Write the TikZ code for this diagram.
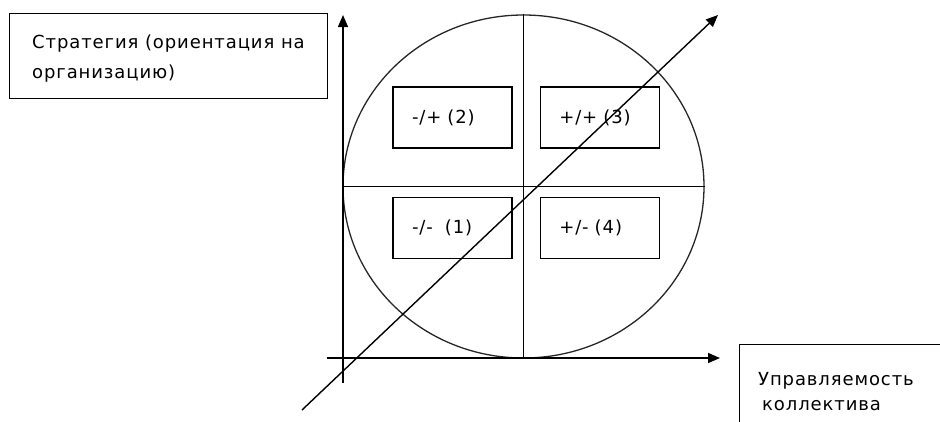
\documentclass[tikz,border=0pt]{standalone}
\usepackage{fontspec}
\setmainfont{DejaVu Sans}[LetterSpace=5]
\usetikzlibrary{arrows.meta, positioning, shapes.geometric}
\tikzstyle{labelbox} = [rectangle, draw, line width=1.3pt, anchor=north west, inner sep=0pt]
\tikzstyle{quad} = [
  rectangle, draw, line width=1.3pt, minimum width=119pt, minimum height=61pt,
  text width=81pt, inner xsep=19pt, align=left, font=\fontsize{18}{20}\selectfont
]
\tikzstyle{txt} = [anchor=base west, inner sep=0pt, font=\fontsize{18}{20}\selectfont]
\tikzstyle{axis} = [-{Triangle[length=12pt, width=10pt]}, line width=1.4pt]

\begin{document}
\begin{tikzpicture}[x=1pt, y=-1pt]
  \useasboundingbox (0,0) rectangle (940,421);
  \clip (0,0) rectangle (940,421);

  % Labels
  \node[labelbox, minimum width=318pt, minimum height=85pt] (strat) at (9,13) {};
  \node[txt] (strat1) at (32,48) {Стратегия (ориентация на};
  \node[txt] (strat2) at (32,78) {организацию)};
  \node[labelbox, minimum width=230pt, minimum height=100pt] (manage) at (739,344) {};
  \node[txt] (manage1) at (758,385) {Управляемость};
  \node[txt] (manage2) at (762,410) {коллектива};

  % Circle
  \node[ellipse, draw=black!85, line width=1.3pt, minimum width=361pt, minimum height=343pt] (ring) at (523.5,186.5) {};
  \draw[line width=1.4pt] (ring.north) -- (ring.south);
  \draw[line width=1.4pt] (ring.west) -- (ring.east);

  % Quadrants
  \node[quad] (q2) at (452.5,117.5) {-/+ (2)};
  \node[quad, right=27pt of q2] (q3) {+/+ (3)};
  \node[quad, below=48pt of q2] (q1) {-/-\ \ (1)};
  \node[quad, below=48pt of q3] (q4) {+/- (4)};

  % Axes
  \coordinate (ybot) at (343,383);
  \coordinate (ytop) at (343,15);
  \coordinate (xleft) at (327,358);
  \coordinate (xright) at (720,358);
  \coordinate (dstart) at (302,410);
  \coordinate (dend) at (718,15);
  \draw[axis] (ybot) -- (ytop);
  \draw[axis] (xleft) -- (xright);
  \draw[axis] (dstart) -- (dend);

\end{tikzpicture}
\end{document}
